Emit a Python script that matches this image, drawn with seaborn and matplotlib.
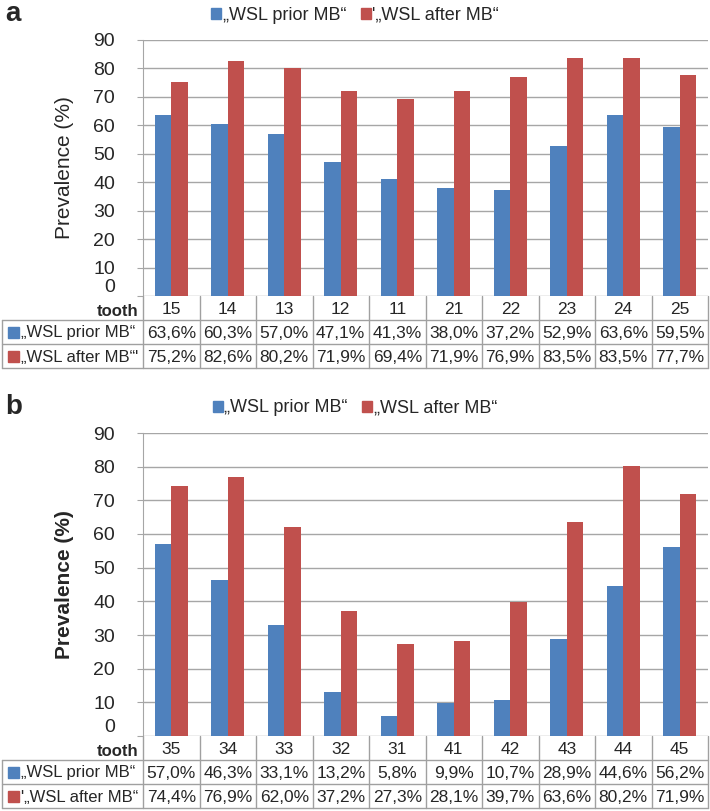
import numpy as np
import pandas as pd
import seaborn as sns
import matplotlib.pyplot as plt
from matplotlib.patches import Rectangle

# data -------------------------------------------------------------
teeth_a = ["15", "14", "13", "12", "11", "21", "22", "23", "24", "25"]
prior_a = [63.6, 60.3, 57.0, 47.1, 41.3, 38.0, 37.2, 52.9, 63.6, 59.5]
after_a = [75.2, 82.6, 80.2, 71.9, 69.4, 71.9, 76.9, 83.5, 83.5, 77.7]

teeth_b = ["35", "34", "33", "32", "31", "41", "42", "43", "44", "45"]
prior_b = [57.0, 46.3, 33.1, 13.2, 5.8, 9.9, 10.7, 28.9, 44.6, 56.2]
after_b = [74.4, 76.9, 62.0, 37.2, 27.3, 28.1, 39.7, 63.6, 80.2, 71.9]

series = ["prior", "after"]
legend_a = ["\u201eWSL prior MB\u201c", "'\u201eWSL after MB\u201c"]
legend_b = ["\u201eWSL prior MB\u201c", "\u201eWSL after MB\u201c"]
rows_a = ["\u201eWSL prior MB\u201c", "\u201eWSL after MB\u201c'"]
rows_b = ["\u201eWSL prior MB\u201c", "'\u201eWSL after MB\u201c"]

colors = ["#4F81BD", "#C0504D"]
grid_c = "#A6A6A6"

sns.set_style("white")
plt.rcParams['font.family'] = ['Liberation Sans', 'DejaVu Sans']

W, H = 710, 811
fig = plt.figure(figsize=(W / 100, H / 100), dpi=100)
ov = fig.add_axes([0, 0, 1, 1], zorder=5)
ov.set_xlim(0, W)
ov.set_ylim(H, 0)
ov.axis("off")

X0, X1, XL = 143, 708, 2


def panel(letter, teeth, prior, after, top, bottom, leg, rows, bold_ylabel):
    df = pd.DataFrame({
        "tooth": teeth * 2,
        "value": prior + after,
        "series": [series[0]] * len(teeth) + [series[1]] * len(teeth),
    })
    ax = fig.add_axes([X0 / W, 1 - bottom / H, (X1 - X0) / W, (bottom - top) / H])
    sns.barplot(data=df, x="tooth", y="value", hue="series", order=teeth,
                hue_order=series, palette=colors, saturation=1, width=0.58,
                ax=ax, legend=False, zorder=3, linewidth=0)
    ax.set_xlim(-0.5, len(teeth) - 0.5)
    ax.set_ylim(0, 90)
    ax.set_yticks(range(0, 91, 10))
    ax.yaxis.grid(True, color=grid_c, lw=1, zorder=0)
    ax.set_axisbelow(True)
    ax.set_xticks([])
    ax.set_xlabel("")
    ax.set_ylabel("Prevalence (%)", fontsize=15,
                  fontweight="bold" if bold_ylabel else "normal", labelpad=14)
    ax.tick_params(axis="y", labelsize=14, length=4, color=grid_c, pad=16, left=True)
    # the "0" sits a little above the baseline, like in the original
    ax.get_yticklabels()[0].set_verticalalignment("bottom")
    for s in ["top", "right", "bottom"]:
        ax.spines[s].set_visible(False)
    ax.spines["left"].set_color(grid_c)

    # legend
    hs = [Rectangle((0, 0), 1, 1, color=c) for c in colors]
    fig.legend(hs, leg, loc="center", bbox_to_anchor=(355 / W, 1 - (top - 25) / H),
               ncol=2, frameon=False, fontsize=13, handlelength=0.55, handleheight=0.55,
               handletextpad=0.1, columnspacing=0.8)
    ov.text(5, top - 26, letter, fontsize=20, fontweight="bold", va="center", ha="left")

    # table
    n = len(teeth)
    cw = (X1 - X0) / n
    rh = 24
    y0 = bottom
    lc = "#A0A0A0"
    ov.plot([X0, X1], [y0 + rh, y0 + rh], color=lc, lw=1)
    for i in range(n + 1):
        ov.plot([X0 + i * cw] * 2, [y0, y0 + 3 * rh], color=lc, lw=1)
    ov.plot([XL, XL], [y0 + rh, y0 + 3 * rh], color=lc, lw=1)
    ov.plot([XL, X1], [y0 + 2 * rh, y0 + 2 * rh], color=lc, lw=1)
    ov.plot([XL, X1], [y0 + 3 * rh, y0 + 3 * rh], color=lc, lw=1)
    ov.plot([XL, X0], [y0 + rh, y0 + rh], color=lc, lw=1)
    ov.text(X0 - 5, y0 + rh - 1, "tooth", fontsize=12, fontweight="bold",
            ha="right", va="bottom")
    for i, t in enumerate(teeth):
        ov.text(X0 + (i + 0.5) * cw, y0 + rh / 2 + 1, t, fontsize=12.5, ha="center", va="center")
    for r, (vals, lab, c) in enumerate(zip([prior, after], rows, colors)):
        yc = y0 + (r + 1.5) * rh + 1
        ov.add_patch(Rectangle((8, yc - 6), 11, 11, color=c))
        ov.text(21, yc, lab, fontsize=12, ha="left", va="center")
        for i, v in enumerate(vals):
            ov.text(X0 + (i + 0.5) * cw, yc, f"{v:.1f}%".replace(".", ","),
                    fontsize=12.5, ha="center", va="center")


panel("a", teeth_a, prior_a, after_a, 40, 296, legend_a, rows_a, False)
panel("b", teeth_b, prior_b, after_b, 433, 736, legend_b, rows_b, True)

fig.savefig("out.png", dpi=100)
